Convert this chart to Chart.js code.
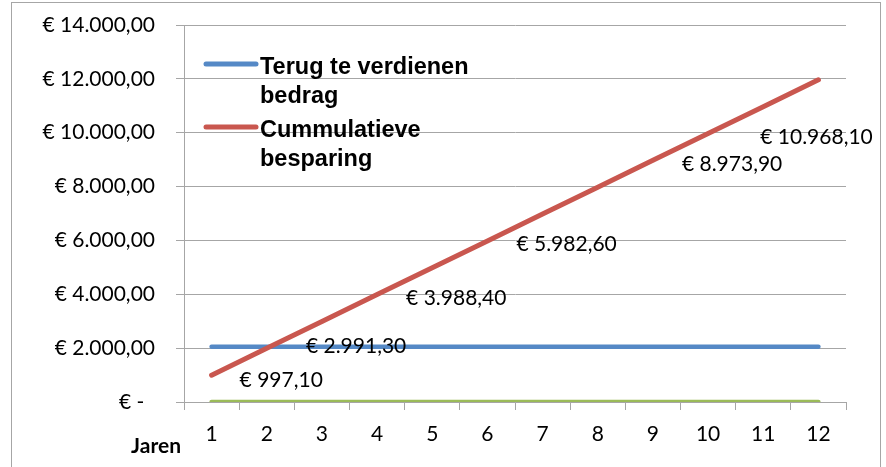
<!DOCTYPE html>
<html>
<head>
<meta charset="utf-8">
<script src="https://cdn.jsdelivr.net/npm/chart.js@4/dist/chart.umd.min.js"></script>
<style>
  html, body { margin: 0; padding: 0; background: #fff; }
  canvas { display: block; }
</style>
</head>
<body>
<canvas id="chart" width="886" height="467"></canvas>
<script>
// data
const jaren = ['1', '2', '3', '4', '5', '6', '7', '8', '9', '10', '11', '12'];
const terugBedrag = [2050, 2050, 2050, 2050, 2050, 2050, 2050, 2050, 2050, 2050, 2050, 2050];
const cumBesparing = [997.1, 1994.2, 2991.3, 3988.4, 4985.5, 5982.6, 6979.7, 7976.8, 8973.9, 9971.0, 10968.1, 11965.2];
const nulLijn = [0, 0, 0, 0, 0, 0, 0, 0, 0, 0, 0, 0];
const yMin = 0;
const yMax = 14000;
const yStep = 2000;
const labelIdx = [0, 2, 3, 5, 8, 10]; // which points of the red series carry a value label

const GRID = '#a6a6a6';
const FONT = 'Lato';

function euro(v) {
    if (v === 0) return '€ -  ';
    const parts = v.toFixed(2).split('.');
    return '€ ' + parts[0].replace(/\B(?=(\d{3})+(?!\d))/g, '.') + ',' + parts[1];
}

// grey frame round the whole chart
const frame = {
    id: 'frame',
    beforeDraw(chart) {
        const c = chart.ctx;
        c.save();
        c.strokeStyle = GRID;
        c.lineWidth = 1;
        c.strokeRect(11.5, 2.5, 869, 520);
        c.restore();
    }
};

// value labels next to some points of the red line
const euroLabels = {
    id: 'euroLabels',
    afterDatasetsDraw(chart, args, opts) {
        const meta = chart.getDatasetMeta(1);
        const c = chart.ctx;
        c.save();
        c.font = '21px ' + FONT;
        c.fillStyle = '#000';
        c.textAlign = 'left';
        c.textBaseline = 'middle';
        opts.idx.forEach((i, k) => {
            const pt = meta.data[i];
            const v = chart.data.datasets[1].data[i];
            c.fillText(euro(v), pt.x + opts.dx[k], pt.y + opts.dy[k]);
        });
        c.restore();
    }
};

// legend inside the plot, wrapped text
const sideLegend = {
    id: 'sideLegend',
    afterDatasetsDraw(chart, args, opts) {
        const c = chart.ctx;
        c.save();
        c.font = 'bold 23.5px "Liberation Sans", Arial, sans-serif';
        c.fillStyle = '#000';
        c.textAlign = 'left';
        c.textBaseline = 'alphabetic';
        let y = opts.top;
        chart.data.datasets.forEach(ds => {
            if (!ds.label) return;
            // line sample
            c.strokeStyle = ds.borderColor;
            c.lineWidth = 5;
            c.lineCap = 'round';
            c.beginPath();
            c.moveTo(opts.x, y);
            c.lineTo(opts.x + 50, y);
            c.stroke();
            // wrap label
            const words = ds.label.split(' ');
            const lines = [];
            let cur = '';
            words.forEach(w => {
                const t = cur ? cur + ' ' + w : w;
                if (c.measureText(t).width > opts.maxWidth && cur) { lines.push(cur); cur = w; }
                else cur = t;
            });
            if (cur) lines.push(cur);
            lines.forEach((ln, j) => c.fillText(ln, opts.x + 54, y + 10 + j * 29));
            y += opts.gap;
        });
        c.restore();
    }
};

// "Jaren" left of the year labels
const jarenTitle = {
    id: 'jarenTitle',
    afterDraw(chart) {
        const c = chart.ctx;
        c.save();
        c.font = 'bold 21px ' + FONT;
        c.fillStyle = '#000';
        c.textAlign = 'right';
        c.textBaseline = 'alphabetic';
        c.fillText('Jaren', 181, 453);
        c.restore();
    }
};

new Chart(document.getElementById('chart'), {
    type: 'line',
    data: {
        labels: jaren,
        datasets: [
            { label: 'Terug te verdienen bedrag', data: terugBedrag, borderColor: '#5589C6', borderWidth: 4.5, order: 3 },
            { label: 'Cummulatieve besparing', data: cumBesparing, borderColor: '#C9574F', borderWidth: 5, order: 2 },
            { label: '', data: nulLijn, borderColor: '#9BBB59', borderWidth: 4.5, order: 1 }
        ]
    },
    options: {
        responsive: false,
        animation: false,
        layout: { padding: { top: 25, right: 40, left: 0, bottom: 0 } },
        elements: {
            point: { radius: 0, hoverRadius: 0 },
            line: { tension: 0, borderCapStyle: 'round', borderJoinStyle: 'round' }
        },
        plugins: {
            legend: { display: false },
            tooltip: { enabled: false },
            euroLabels: { idx: labelIdx, dx: [28, -16, 29, 29, 29, -3], dy: [5, 25, 4, 3, 4, 31] },
            sideLegend: { x: 206, top: 64, gap: 63, maxWidth: 235 }
        },
        scales: {
            x: {
                offset: true,
                grid: { offset: true, drawOnChartArea: false, color: GRID, tickLength: 8 },
                border: { display: true, color: GRID },
                ticks: { color: '#000', font: { family: FONT, size: 21 }, padding: 12, maxRotation: 0 },
                afterFit(scale) { scale.height = 65; scale.paddingLeft = 0; scale.paddingRight = 0; }
            },
            y: {
                min: yMin,
                max: yMax,
                grid: { color: GRID, tickLength: 8 },
                border: { display: true, color: GRID },
                ticks: {
                    stepSize: yStep,
                    color: '#000',
                    font: { family: FONT, size: 21 },
                    padding: 21,
                    callback: v => euro(v)
                },
                afterFit(scale) { scale.width = 184; scale.paddingTop = 0; scale.paddingBottom = 0; }
            }
        }
    },
    plugins: [frame, euroLabels, sideLegend, jarenTitle]
});
</script>
</body>
</html>
